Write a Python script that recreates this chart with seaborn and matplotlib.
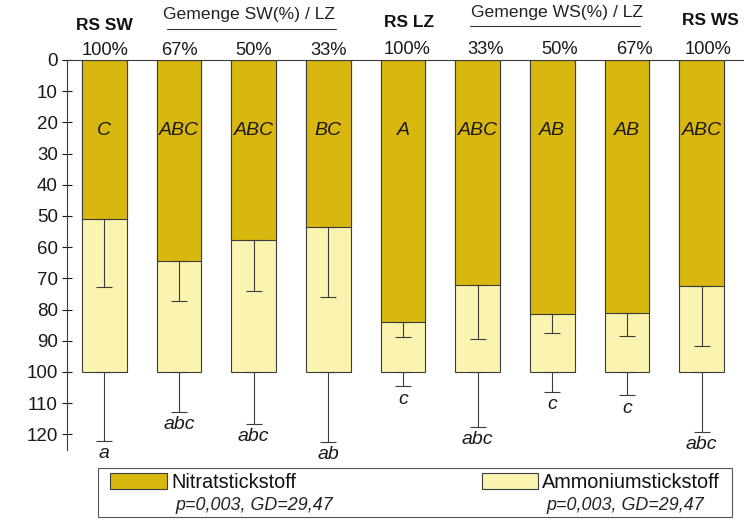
import numpy as np
import pandas as pd
import matplotlib
matplotlib.use("Agg")
import matplotlib.pyplot as plt
from matplotlib.patches import Rectangle
from matplotlib.lines import Line2D
import matplotlib.transforms as mtransforms
import seaborn as sns

# Treatments (left to right) and their sowing share labels
groups = ["RS SW", "SW 67", "SW 50", "SW 33", "RS LZ", "WS 33", "WS 50", "WS 67", "RS WS"]
share_labels = ["100%", "67%", "50%", "33%", "100%", "33%", "50%", "67%", "100%"]

# Share of mineral N (%) and standard deviations
nitrat = [51.0, 64.5, 57.7, 53.6, 84.0, 72.2, 81.4, 81.2, 72.4]
nitrat_sd = [21.6, 12.6, 16.3, 22.4, 4.7, 17.2, 6.0, 7.2, 19.3]
ammonium = [49.0, 35.5, 42.3, 46.4, 16.0, 27.8, 18.6, 18.8, 27.6]
ammonium_sd = [22.0, 12.7, 16.6, 22.3, 4.5, 17.5, 6.3, 7.4, 19.1]

# Significance letters
nitrat_letters = ["C", "ABC", "ABC", "BC", "A", "ABC", "AB", "AB", "ABC"]
ammonium_letters = ["a", "abc", "abc", "ab", "c", "abc", "c", "c", "abc"]

y_ticks = list(range(0, 121, 10))

DARK = "#D8B70F"
LIGHT = "#FAF4B0"
EDGE = "#3c3c3c"

sns.set_style("white")
plt.rcParams["font.family"] = ["Liberation Sans", "DejaVu Sans"]

W, H = 744, 522
SLOT = 74.7  # pixels per category slot
fig = plt.figure(figsize=(W / 100, H / 100), dpi=100)
ax = fig.add_axes([67 / W, 1 - 450 / H, (W - 67) / W, 390 / H])

df = pd.DataFrame({
    "group": groups,
    "nitrat": nitrat,
    "total": np.array(nitrat) + np.array(ammonium),
})

# Full bar (nitrate + ammonium) in light colour, nitrate part drawn over it
sns.barplot(data=df, x="group", y="total", order=groups, color=LIGHT,
            saturation=1, width=0.6, edgecolor=EDGE, linewidth=0.8,
            errorbar=None, ax=ax)
sns.barplot(data=df, x="group", y="nitrat", order=groups, color=DARK,
            saturation=1, width=0.6, edgecolor=EDGE, linewidth=0.8,
            errorbar=None, ax=ax)

xpos = np.arange(len(groups))
zeros = np.zeros(len(groups))
ax.errorbar(xpos, nitrat, yerr=[zeros, nitrat_sd], fmt="none",
            ecolor=EDGE, elinewidth=0.8, capsize=5.5, capthick=0.8, zorder=5)
tot = df["total"].to_numpy()
ax.errorbar(xpos, tot, yerr=[zeros, ammonium_sd], fmt="none",
            ecolor=EDGE, elinewidth=0.8, capsize=5.5, capthick=0.8, zorder=5)

# Letters
for i in range(len(groups)):
    ax.text(xpos[i], 24, nitrat_letters[i], ha="center", va="baseline",
            fontsize=14, style="italic", color="#1a1a1a")
    ax.text(xpos[i], tot[i] + ammonium_sd[i] + 5.6, ammonium_letters[i],
            ha="center", va="baseline", fontsize=14, style="italic",
            color="#1a1a1a", clip_on=False)

ax.set_ylim(125, 0)
ax.set_xlim(-0.5, (W - 104) / SLOT)
ax.set_yticks(y_ticks)
ax.set_yticklabels([str(t) for t in y_ticks], fontsize=13.5)
ax.set_xticks([])
ax.tick_params(axis="y", direction="inout", length=7, width=0.8, pad=3,
               colors="#1a1a1a", left=True)
ax.set_xlabel("")
ax.set_ylabel("")
for side in ["right", "bottom"]:
    ax.spines[side].set_visible(False)
for side in ["left", "top"]:
    ax.spines[side].set_color(EDGE)
    ax.spines[side].set_linewidth(0.8)

# Share labels and group headers above the plot
trans = mtransforms.blended_transform_factory(ax.transData, ax.transAxes)
def ay(py):
    return (450 - py) / 390
def dx(px):
    return (px - 104) / SLOT

share_px = [105, 179, 253.5, 328.5, 407, 485, 560, 634, 708]
share_py = [50.5, 50.5, 50.5, 50.5, 49, 49, 49, 49, 49]
for lab, px, py in zip(share_labels, share_px, share_py):
    ax.text(dx(px), ay(py), lab, transform=trans, ha="center", va="center",
            fontsize=13.2, color="#1a1a1a")

for px, py, lab in [(104, 26, "RS SW"), (409, 23, "RS LZ"), (710, 21, "RS WS")]:
    ax.text(dx(px), ay(py), lab, transform=trans, ha="center", va="center",
            fontsize=12.5, fontweight="bold", color="#111111")
for (px0, px1), tpx, tpy, lpy, lab in [
        ((167, 336), 249, 15, 29, "Gemenge SW(%) / LZ"),
        ((470, 640), 557, 13, 25.5, "Gemenge WS(%) / LZ")]:
    ax.text(dx(tpx), ay(tpy), lab, transform=trans, ha="center",
            va="center", fontsize=12.6, color="#222222")
    ax.add_line(Line2D([dx(px0), dx(px1)], [ay(lpy), ay(lpy)], transform=trans,
                       color="#333333", linewidth=0.8, clip_on=False))

# Legend box
def fx(px):
    return px / W
def fy(py):
    return 1 - py / H

fig.add_artist(Rectangle((fx(98), fy(517)), fx(732) - fx(98), fy(468) - fy(517),
                         transform=fig.transFigure, facecolor="white",
                         edgecolor="#555555", linewidth=0.8))
for (px0, px1), col, lab, tx, ptx in [
        ((110, 167), DARK, "Nitratstickstoff", 171, 175),
        ((482, 538), LIGHT, "Ammoniumstickstoff", 542, 546)]:
    fig.add_artist(Rectangle((fx(px0), fy(489)), fx(px1) - fx(px0), fy(473) - fy(489),
                             transform=fig.transFigure, facecolor=col,
                             edgecolor=EDGE, linewidth=0.8))
    fig.text(fx(tx), fy(482), lab, ha="left", va="center", fontsize=14.3,
             color="#111111")
    fig.text(fx(ptx), fy(506), "p=0,003, GD=29,47", ha="left", va="center",
             fontsize=12.9, style="italic", color="#222222")

fig.savefig("out.png", dpi=100, facecolor="white")
